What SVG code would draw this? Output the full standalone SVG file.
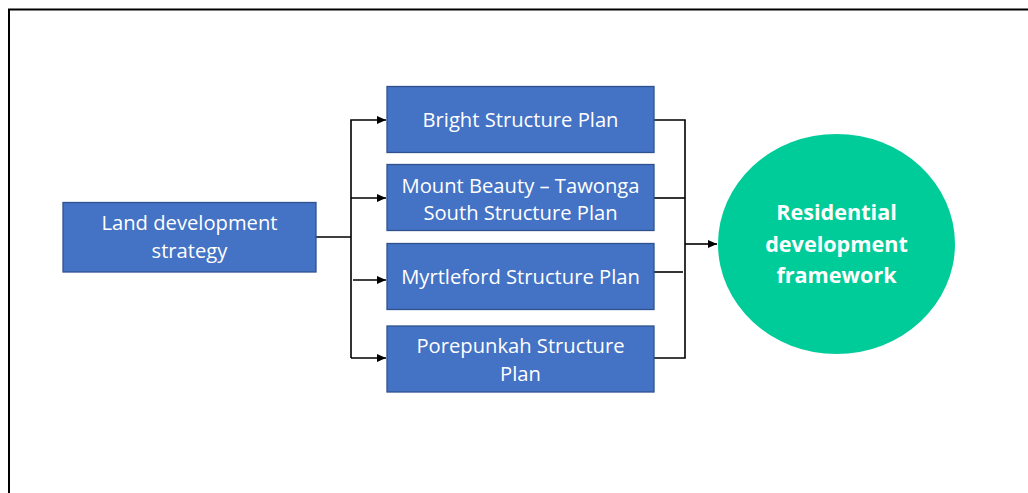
<svg xmlns="http://www.w3.org/2000/svg" width="1028" height="493" viewBox="0 0 1028 493">
<defs>
<marker id="arr" markerWidth="9" markerHeight="8" refX="9" refY="4" orient="auto" markerUnits="userSpaceOnUse">
<path d="M0,0 L9,4 L0,8 Z" fill="#000"/>
</marker>
<style>
.box{fill:#4472C4;stroke:#2F528F;stroke-width:1.3}
.bt{font-family:"Open Sans","Liberation Sans",sans-serif;font-size:20.2px;fill:#fff;text-anchor:middle;dominant-baseline:central}
.ct{font-family:"Open Sans","Liberation Sans",sans-serif;font-size:21.6px;font-weight:bold;fill:#fff;text-anchor:middle;dominant-baseline:central}
.ln{fill:none;stroke:#000;stroke-width:1.6}
</style>
</defs>
<rect width="1028" height="493" fill="#fff"/>
<path d="M9,493 L9,9.5 L1028,9.5" fill="none" stroke="#000" stroke-width="2"/>
<g id="connectors">
<path class="ln" d="M316,237 L351,237"/>
<path class="ln" d="M351,358 L351,120 L386,120" marker-end="url(#arr)"/>
<path class="ln" d="M351,198 L386,198" marker-end="url(#arr)"/>
<path class="ln" d="M353,280 L386,280" marker-end="url(#arr)"/>
<path class="ln" d="M351,358 L386,358" marker-end="url(#arr)"/>
<path class="ln" d="M654,120 L685,120 L685,358 L654,358"/>
<path class="ln" d="M654,198 L685,198"/>
<path class="ln" d="M652,272 L683,272"/>
<path class="ln" d="M685,244 L717,244" marker-end="url(#arr)"/>
</g>
<g id="land">
<rect class="box" x="63" y="202.5" width="253" height="69.5"/>
<text class="bt" x="189.5" y="222">Land development</text>
<text class="bt" x="189.5" y="250">strategy</text>
</g>
<g id="bright">
<rect class="box" x="387" y="86.5" width="267" height="66"/>
<text class="bt" x="520.5" y="118.5">Bright Structure Plan</text>
</g>
<g id="mountbeauty">
<rect class="box" x="387" y="164.5" width="267" height="66"/>
<text class="bt" x="520.5" y="184.5">Mount Beauty – Tawonga</text>
<text class="bt" x="520.5" y="211.5">South Structure Plan</text>
</g>
<g id="myrtleford">
<rect class="box" x="387" y="243.5" width="267" height="66"/>
<text class="bt" x="520.5" y="276">Myrtleford Structure Plan</text>
</g>
<g id="porepunkah">
<rect class="box" x="387" y="326" width="267" height="66"/>
<text class="bt" x="520.5" y="345">Porepunkah Structure</text>
<text class="bt" x="520.5" y="372.5">Plan</text>
</g>
<g id="residential">
<ellipse cx="836.5" cy="244" rx="118.5" ry="110" fill="#00CC99"/>
<text class="ct" x="836.5" y="211.5">Residential</text>
<text class="ct" x="836.5" y="243.5">development</text>
<text class="ct" x="836.5" y="274.5">framework</text>
</g>
</svg>
